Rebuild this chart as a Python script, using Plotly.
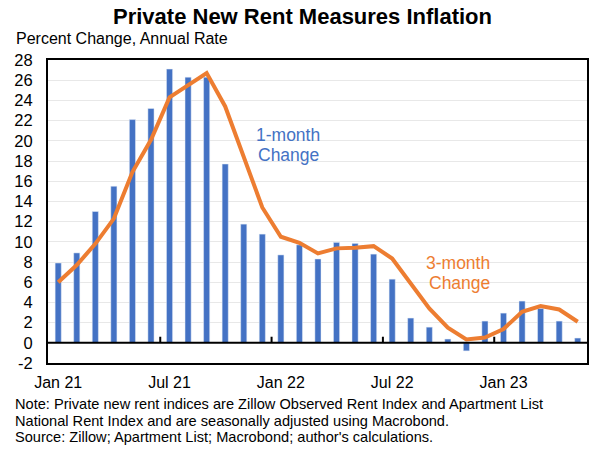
import plotly.graph_objects as go

months = ["Jan 21", "Feb 21", "Mar 21", "Apr 21", "May 21", "Jun 21", "Jul 21", "Aug 21", "Sep 21",
          "Oct 21", "Nov 21", "Dec 21", "Jan 22", "Feb 22", "Mar 22", "Apr 22", "May 22", "Jun 22",
          "Jul 22", "Aug 22", "Sep 22", "Oct 22", "Nov 22", "Dec 22", "Jan 23", "Feb 23", "Mar 23",
          "Apr 23", "May 23"]
one_month = [7.9, 8.9, 13.0, 15.5, 22.1, 23.2, 27.1, 26.3, 26.3,
             17.7, 11.75, 10.76, 8.7, 9.7, 8.3, 9.94, 9.84, 8.78,
             6.3, 2.45, 1.55, 0.37, -0.8, 2.15, 2.94, 4.13, 3.4,
             2.15, 0.47]
three_month = [6.0, 7.7, 9.8, 12.3, 16.9, 20.1, 24.3, 25.5, 26.7,
               23.4, 18.4, 13.4, 10.5, 9.9, 8.85, 9.35, 9.4, 9.57,
               8.35, 5.9, 3.4, 1.5, 0.34, 0.53, 1.36, 3.07, 3.63,
               3.3, 2.08]
tick_labels = ["Jan 21", "Jul 21", "Jan 22", "Jul 22", "Jan 23"]
y_ticks = list(range(-2, 29, 2))

title = "<b>Private New Rent Measures Inflation</b>"
subtitle = "Percent Change, Annual Rate"
note_lines = ["Note: Private new rent indices are Zillow Observed Rent Index and Apartment List",
              "National Rent Index and are seasonally adjusted using Macrobond.",
              "Source: Zillow; Apartment List; Macrobond; author's calculations."]

x_idx = list(range(len(months)))
tick_pos = [months.index(t) for t in tick_labels]

BLUE = "#4472C4"
ORANGE = "#ED7D31"
FONT = "Liberation Sans, Arial, sans-serif"

W, H = 600, 450
L, R, T, B = 48, 13, 60, 87
PW, PH = W - L - R, H - T - B


def px(x):
    return (x - L) / PW


def py(y):
    return (H - B - y) / PH


fig = go.Figure()
fig.add_trace(go.Bar(x=x_idx, y=one_month, marker_color=BLUE, width=0.33,
                     name="1-month Change", hovertext=months))
fig.add_trace(go.Scatter(x=x_idx, y=three_month, mode="lines",
                         line=dict(color=ORANGE, width=4), name="3-month Change",
                         hovertext=months))

# zero line drawn above the bars
fig.add_shape(type="line", xref="paper", x0=0, x1=1, y0=0, y1=0,
              line=dict(color="black", width=2), layer="above")
# small tick marks on the zero line between categories, every 6 months
for p in tick_pos[1:]:
    fig.add_shape(type="line", x0=p - 0.5, x1=p - 0.5, y0=0, y1=0.6,
                  line=dict(color="black", width=2), layer="above")

annotations = [
    dict(text=title, x=px(302), y=py(16), font=dict(size=22, family=FONT)),
    dict(text=subtitle, x=px(14), y=py(38), xanchor="left", font=dict(size=16, family=FONT)),
    dict(text="1-month", x=px(288), y=py(135), font=dict(size=17.5, family=FONT, color=BLUE)),
    dict(text="Change", x=px(288), y=py(155), font=dict(size=17.5, family=FONT, color=BLUE)),
    dict(text="3-month", x=px(458), y=py(263), font=dict(size=17.5, family=FONT, color=ORANGE)),
    dict(text="Change", x=px(459), y=py(283), font=dict(size=17.5, family=FONT, color=ORANGE)),
]
for i, line in enumerate(note_lines):
    annotations.append(dict(text=line, x=px(13), y=py(404 + 16.5 * i), xanchor="left",
                            font=dict(size=14.6, family=FONT)))
for a in annotations:
    a.update(xref="paper", yref="paper", showarrow=False, yanchor="middle")
    a.setdefault("xanchor", "center")

fig.update_layout(
    width=W, height=H,
    margin=dict(l=L, r=R, t=T, b=B),
    plot_bgcolor="white", paper_bgcolor="white",
    showlegend=False,
    font=dict(family=FONT, color="black"),
    xaxis=dict(range=[-0.55, 28.5], tickmode="array", tickvals=tick_pos, ticktext=tick_labels,
               showgrid=False, showline=True, linecolor="black", linewidth=2, mirror=True,
               ticks="", tickfont=dict(size=16, family=FONT), zeroline=False, automargin=False,
               ticklabelstandoff=4),
    yaxis=dict(range=[-2, 28], tickmode="array", tickvals=y_ticks,
               ticktext=[str(v) for v in y_ticks],
               showgrid=True, gridcolor="#E8E8E8", gridwidth=1,
               showline=True, linecolor="black", linewidth=2, mirror=True,
               zeroline=False, ticks="", tickfont=dict(size=16.5, family=FONT), automargin=False,
               ticklabelstandoff=10),
    annotations=annotations,
)

fig.write_html("out.html", config={"displayModeBar": False},
               post_script="document.body.style.margin='0';")
